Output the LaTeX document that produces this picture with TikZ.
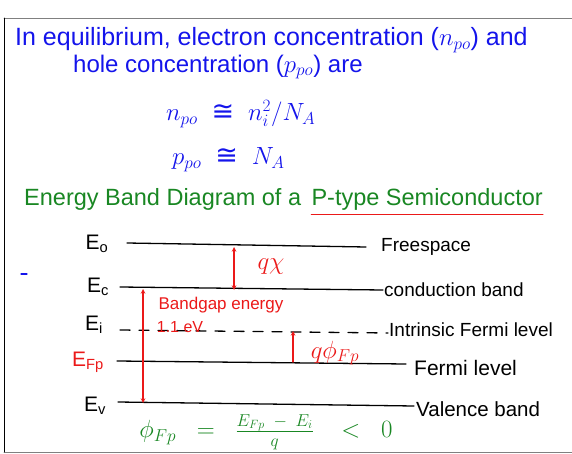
\documentclass[tikz,border=0pt]{standalone}
\usepackage{fontspec}
\setmainfont{Liberation Sans}
\newfontfamily\symfont{DejaVu Sans}
\usetikzlibrary{positioning}
\definecolor{inkblue}{RGB}{20,20,235}
\definecolor{inkgreen}{RGB}{25,135,35}
\definecolor{inkred}{RGB}{235,25,25}
\newcommand{\smallmath}[1]{\hbox{\fontsize{18}{20}\selectfont$#1$}}
\newcommand{\approxeq}{\mathrel{\hbox{\symfont ≅}}}
\begin{document}
\begin{tikzpicture}[x=1pt, y=-1pt, line cap=round, line join=round, >=stealth,
		every node/.style={inner sep=0pt},
		note/.style={anchor=west, text=inkblue, font=\fontsize{24}{26}\selectfont},
		heading/.style={anchor=west, text=inkgreen, font=\fontsize{23.5}{26}\selectfont},
		level/.style={line width=1.3pt},
		lvl/.style={font=\fontsize{19}{20}\selectfont},
		sym/.style={font=\fontsize{21}{22}\selectfont},
		redlabel/.style={text=inkred, font=\fontsize{17}{20}\selectfont},
		gaparrow/.style={inkred, line width=1.1pt}]
	\useasboundingbox (0,0) rectangle (572,454);
	\draw[gray, line width=0.8pt] (572,18) -- (4,18);
	\draw[gray, line width=0.8pt] (4,452) -- (572,452);
	\draw[line width=0.8pt] (4,18) -- (4,452);
	\node[note, font=\fontsize{25}{28}\selectfont] (line1) at (15,40) {In equilibrium, electron concentration ($n_{po}$) and};
	\node[note] (line2) at (73,67) {hole concentration ($p_{po}$) are};
	\node[note, font=\fontsize{27}{30}\selectfont] (eq1) at (166,114) {$n_{po} \;\approxeq\; n_i^2/N_A$};
	\node[note, font=\fontsize{27}{30}\selectfont] (eq2) at (172,160) {$p_{po} \;\approxeq\; N_A$};
	\node[heading] (title) at (24,199) {Energy Band Diagram of a};
	\node[heading, anchor=base west] (ptype) at ([xshift=10pt]title.base east) {P-type Semiconductor};
	\draw[inkred, line width=1.2pt] ([yshift=-4pt]ptype.south west) -- ([yshift=-4pt]ptype.south east);
	\draw[inkblue, line width=1.2pt] (21,274) -- (27,274);
	\foreach \n/\xa/\ya/\xb/\yb in {o/127/243/366/247, c/120/287/383/290, fp/117/361/406/364, v/118/402/414/406}
		\draw[level] (\xa,\ya) coordinate (\n L) -- (\xb,\yb) coordinate (\n R);
	\draw[level, dash pattern=on 10pt off 9pt] (120,330) coordinate (iL) -- (388,333) coordinate (iR);
	\node[sym] (Eo) at (97,244) {E\textsubscript{o}};
	\node[sym] (Ec) at (98,287) {E\textsubscript{c}};
	\node[sym] (Ei) at (94,325) {E\textsubscript{i}};
	\node[sym, text=inkred] (Efp) at (88,362) {E\textsubscript{Fp}};
	\node[sym] (Ev) at (95,406) {E\textsubscript{v}};
	\node[lvl, right=15pt of oR] (free) {Freespace};
	\node[lvl, right=1pt of cR] (cond) {conduction band};
	\node[lvl, right=1pt of iR, yshift=3pt] (intr) {Intrinsic Fermi level};
	\node[lvl, right=8pt of fpR, yshift=-4pt, font=\fontsize{21}{22}\selectfont] (ferm) {Fermi level};
	\node[lvl, right=2pt of vR, yshift=-3pt, font=\fontsize{20.5}{22}\selectfont] (val) {Valence band};
	\coordinate (chiT) at (234,247);
	\coordinate (chiB) at (234,290);
	\coordinate (gapT) at (143,289);
	\coordinate (gapB) at (143,403);
	\coordinate (phiB) at (293,362);
	\coordinate (phiT) at (293,331);
	\draw[gaparrow, <->] (chiT) -- (chiB);
	\draw[gaparrow, <->] (gapT) -- (gapB);
	\draw[gaparrow, ->] (phiB) -- (phiT);
	\node[redlabel, font=\fontsize{25}{28}\selectfont] (qchi) at (271,267) {$q\chi$};
	\node[redlabel] (bandgap) at (221,305) {Bandgap energy};
	\node[redlabel, font=\fontsize{16}{18}\selectfont] (eV) at (180,327) {1.1 eV};
	\node[redlabel, font=\fontsize{23}{26}\selectfont] (qphi) at (335,353) {$q\phi_{Fp}$};
	\node[text=inkgreen, font=\fontsize{23}{26}\selectfont] (phiFp) at (266,432)
		{$\phi_{Fp} \;\;=\;\; \frac{\smallmath{E_{Fp}\;-\;E_i}}{\smallmath{q}} \;\;\;<\;\; 0$};
\end{tikzpicture}
\end{document}
